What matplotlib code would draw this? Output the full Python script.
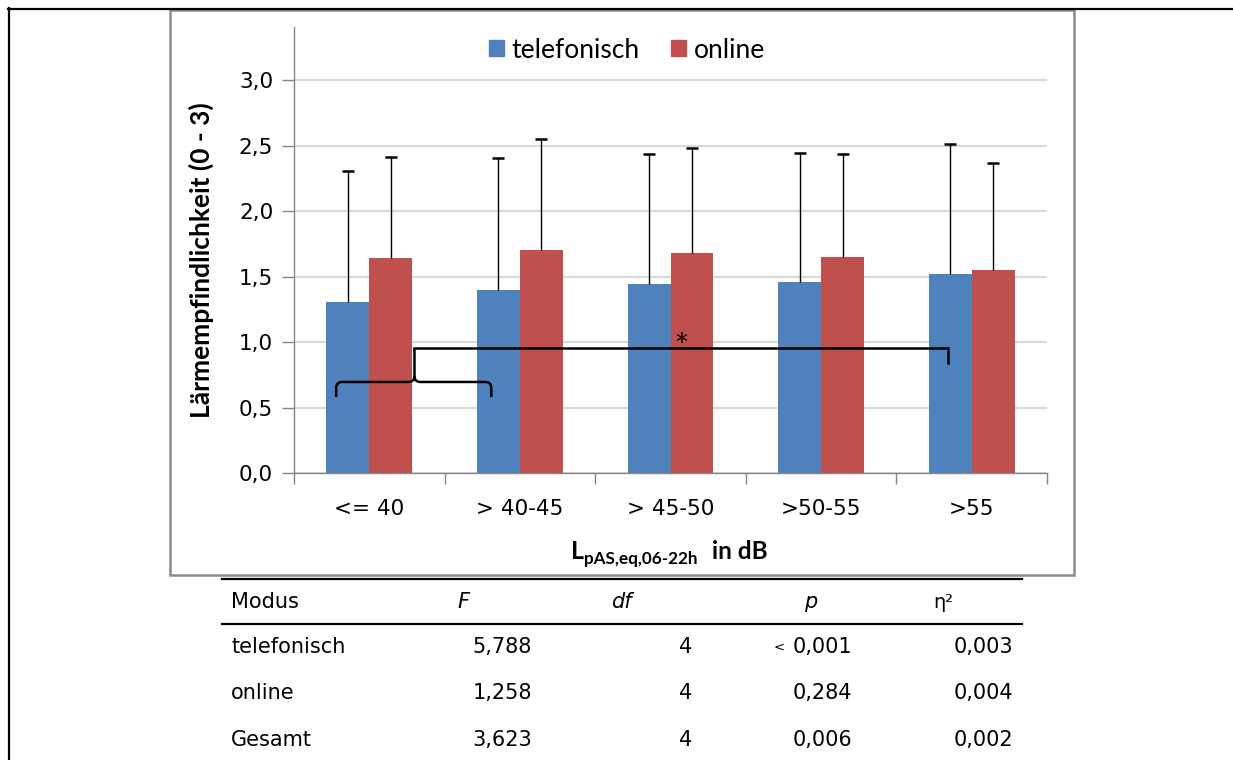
import numpy as np
import matplotlib
matplotlib.use("Agg")
import matplotlib.pyplot as plt
from matplotlib.patches import Rectangle, Patch, PathPatch
from matplotlib.lines import Line2D
from matplotlib.path import Path
from matplotlib.ticker import FuncFormatter, FixedLocator

W, H = 1233, 760

# ── data ─────────────────────────────────────────────────────────────────────
categories = ["<= 40", "> 40-45", "> 45-50", ">50-55", ">55"]
tel_mean = [1.305, 1.40, 1.44, 1.456, 1.517]
tel_sd   = [1.00, 1.005, 0.995, 0.989, 0.997]
onl_mean = [1.639, 1.705, 1.677, 1.649, 1.552]
onl_sd   = [0.776, 0.845, 0.803, 0.786, 0.817]

tab_header = ["Modus", "F", "df", "p", "η²"]
tab_modus  = ["telefonisch", "online", "Gesamt"]
tab_f      = ["5,788", "1,258", "3,623"]
tab_df     = ["4", "4", "4"]
tab_p      = ["0,001", "0,284", "0,006"]
tab_p_less = [True, False, False]
tab_eta    = ["0,003", "0,004", "0,002"]

# significance bracket (data coords): tel groups 0-1 vs tel group 4
brace_x   = (-0.22, 0.30, 0.81)   # left, middle, right
brace_y   = 0.695
brace_tip = 0.58
link_y    = 0.955
link_end  = 3.843
link_drop = 0.84
star_xy   = (2.074, 0.99)

BLUE = "#4F81BD"
RED = "#C0504D"
LABEL_FONT = ["Lato", "DejaVu Sans"]


def fx(px):
    return px / W


def fy(py):
    return 1 - py / H


fig = plt.figure(figsize=(W / 100, H / 100), dpi=100)

# ── frames ───────────────────────────────────────────────────────────────────
fig.add_artist(Line2D([fx(8), fx(1233)], [fy(8.5), fy(8.5)], color="black", lw=1.6))
fig.add_artist(Line2D([fx(8.5), fx(8.5)], [fy(8), fy(760)], color="black", lw=1.6))
fig.add_artist(Rectangle((fx(170), fy(575)), fx(1074) - fx(170), fy(10) - fy(575),
                         fill=False, edgecolor="#8c8c8c", lw=1.8))

# ── chart ────────────────────────────────────────────────────────────────────
ax = fig.add_axes([fx(294), fy(473), fx(1047) - fx(294), fy(27) - fy(473)])
x = np.arange(len(categories))
w = 0.2855

ax.bar(x - w / 2, tel_mean, w, color=BLUE, zorder=2)
ax.bar(x + w / 2, onl_mean, w, color=RED, zorder=2)
for xs, means, sds in [(x - w / 2, tel_mean, tel_sd), (x + w / 2, onl_mean, onl_sd)]:
    eb = ax.errorbar(xs, means, yerr=[np.zeros(len(x)), sds], fmt="none",
                     ecolor="black", elinewidth=1.0, capsize=4.5, capthick=1.8, zorder=3)
    eb[1][0].set_visible(False)   # no cap on the (zero) lower side

ax.set_xlim(-0.5, len(categories) - 0.5)
ax.set_ylim(0, 3.405)
ax.set_yticks(np.arange(0, 3.01, 0.5))
ax.yaxis.set_major_formatter(FuncFormatter(lambda v, _: f"{v:.1f}".replace(".", ",")))
ax.grid(axis="y", color="#d9d9d9", lw=1.5, zorder=0)
ax.set_axisbelow(True)

ax.set_xticks(x)
ax.set_xticklabels(categories)
ax.xaxis.set_minor_locator(FixedLocator(np.arange(-0.5, len(categories), 1.0)))
ax.tick_params(axis="x", which="major", length=0, pad=19, labelsize=15.5)
ax.tick_params(axis="x", which="minor", length=8, color="#868686", width=1)
ax.tick_params(axis="y", length=9, color="#868686", width=1, pad=6, labelsize=15.5)

for side in ("top", "right"):
    ax.spines[side].set_visible(False)
for side in ("left", "bottom"):
    ax.spines[side].set_color("#868686")
    ax.spines[side].set_linewidth(1.0)

# bracket
L, M, R = brace_x
rx, ry = 0.04, 0.046
brace = Path(
    [(L, brace_tip), (L, brace_y - ry), (L, brace_y), (L + rx, brace_y),
     (M - rx, brace_y), (M, brace_y), (M, brace_y + ry), (M, link_y),
     (M, brace_y + ry), (M, brace_y), (M + rx, brace_y),
     (R - rx, brace_y), (R, brace_y), (R, brace_y - ry), (R, brace_tip)],
    [Path.MOVETO, Path.LINETO, Path.CURVE3, Path.CURVE3,
     Path.LINETO, Path.CURVE3, Path.CURVE3, Path.LINETO,
     Path.MOVETO, Path.CURVE3, Path.CURVE3,
     Path.LINETO, Path.CURVE3, Path.CURVE3, Path.LINETO])
ax.add_patch(PathPatch(brace, fill=False, edgecolor="black", lw=1.8, zorder=4))
ax.plot([M, link_end, link_end], [link_y, link_y, link_drop], color="black",
        lw=1.8, solid_joinstyle="miter", zorder=4)
ax.text(star_xy[0], star_xy[1], "*", ha="center", va="center", fontsize=17, zorder=5)

handles = [Patch(color=BLUE, label="telefonisch"), Patch(color=RED, label="online")]
fig.legend(handles=handles, loc="center", bbox_to_anchor=(fx(627), fy(50)), ncol=2,
           frameon=False, handlelength=0.55, handleheight=0.55, handletextpad=0.3,
           columnspacing=1.2, prop={"family": LABEL_FONT, "size": 19})

fig.text(fx(201), fy(260), "Lärmempfindlichkeit (0 - 3)", rotation=90, ha="center",
         va="center", fontsize=19, fontweight="bold", family=LABEL_FONT)

# x label: L with subscript
fig.text(fx(584), fy(559), "L", ha="right", va="baseline", fontsize=18,
         fontweight="bold", family=LABEL_FONT)
fig.text(fx(584), fy(564), "pAS,eq,06-22h", ha="left", va="baseline", fontsize=12.3,
         fontweight="bold", family=LABEL_FONT)
fig.text(fx(712), fy(559), "in dB", ha="left", va="baseline", fontsize=17.5,
         fontweight="bold", family=LABEL_FONT)

# ── table ────────────────────────────────────────────────────────────────────
fig.add_artist(Line2D([fx(222), fx(1022)], [fy(578.5), fy(578.5)], color="black", lw=1.6))
fig.add_artist(Line2D([fx(222), fx(1022)], [fy(623.5), fy(623.5)], color="black", lw=1.6))

TS = 15
hy = fy(602)
fig.text(fx(231), hy, tab_header[0], ha="left", va="center", fontsize=TS)
fig.text(fx(457), hy, tab_header[1], ha="left", va="center", fontsize=TS, style="italic")
fig.text(fx(611), hy, tab_header[2], ha="left", va="center", fontsize=TS, style="italic")
fig.text(fx(804), hy, tab_header[3], ha="left", va="center", fontsize=TS, style="italic")
fig.text(fx(933), hy, tab_header[4], ha="left", va="center", fontsize=TS - 1)

row_y = [647, 693, 740]
for i, ry_px in enumerate(row_y):
    yy = fy(ry_px)
    fig.text(fx(231), yy, tab_modus[i], ha="left", va="center", fontsize=TS)
    fig.text(fx(532), yy, tab_f[i], ha="right", va="center", fontsize=TS)
    fig.text(fx(692), yy, tab_df[i], ha="right", va="center", fontsize=TS)
    fig.text(fx(852), yy, tab_p[i], ha="right", va="center", fontsize=TS)
    if tab_p_less[i]:
        fig.text(fx(774), yy, "<", ha="left", va="center", fontsize=9.5)
    fig.text(fx(1013), yy, tab_eta[i], ha="right", va="center", fontsize=TS)

fig.savefig("out.png", dpi=100)
